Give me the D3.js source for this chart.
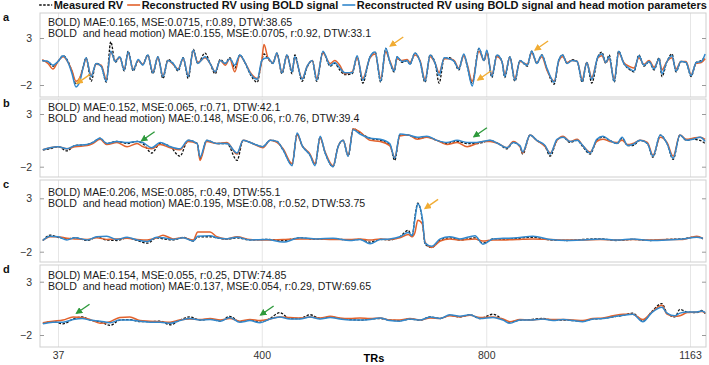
<!DOCTYPE html>
<html lang="en">
<head>
<meta charset="UTF-8">
<title>Measured vs reconstructed RV</title>
<script src="https://d3js.org/d3.v7.min.js"></script>
<style>
    body { margin: 0; background: #fff; }
    svg { display: block; font-family: "Liberation Sans", Arial, Helvetica, sans-serif; }
    .stat { font-size: 10.6px; fill: #1a1a1a; white-space: pre; }
    .panel-label { font-size: 11px; font-weight: bold; fill: #111; }
    .legend text { font-size: 11px; font-weight: bold; fill: #111; }
    .axis text { font-size: 10.5px; fill: #333; }
    .axis path { display: none; }
    .axis line { stroke: #9a9a9a; }
    .grid line { stroke: #e6e6e6; }
    .grid path { display: none; }
</style>
</head>
<body>
<div id="chart"></div>
<script>
// x ticks and y ticks shared by all panels
const xTicks = [37, 400, 800, 1163];
const yTicks = [-2, 3];
const panelLabels = ["a", "b", "c", "d"];
const seriesNames = ["Measured RV", "Reconstructed RV using BOLD signal", "Reconstructed RV using BOLD signal and head motion parameters"];

const statsBold = [
    "BOLD) MAE:0.165, MSE:0.0715, r:0.89, DTW:38.65",
    "BOLD) MAE:0.152, MSE:0.065, r:0.71, DTW:42.1",
    "BOLD) MAE:0.206, MSE:0.085, r:0.49, DTW:55.1",
    "BOLD) MAE:0.154, MSE:0.055, r:0.25, DTW:74.85"
];
const statsMotion = [
    "BOLD  and head motion) MAE:0.155, MSE:0.0705, r:0.92, DTW:33.1",
    "BOLD  and head motion) MAE:0.148, MSE:0.06, r:0.76, DTW:39.4",
    "BOLD  and head motion) MAE:0.195, MSE:0.08, r:0.52, DTW:53.75",
    "BOLD  and head motion) MAE:0.137, MSE:0.054, r:0.29, DTW:69.65"
];

// panel a
const trA = [9,19,28,37,46,55,62,69,76,82,87,96,105,114,123,131,139,147,155,162,171,180,188,197,206,215,224,233,242,251,260,269,278,286,
    299,308,317,326,335,343,352,361,370,379,392,400,404,411,420,427,436,445,454,459,472,481,490,498,509,522,530,539,548,561,570,580,593,602,
    612,621,628,636,641,650,659,664,673,682,691,700,709,716,725,734,743,751,760,766,775,787,796,801,810,819,828,833,842,851,860,873,881,890,
    899,908,921,929,936,944,953,962,971,979,988,999,1006,1013,1019,1028,1036,1045,1054,1063,1072,1081,1090,1099,1108,1113,1122,1131,1138,1147,1156,1165,1174,1183,1190];
const measuredA = [0.6,0.5,0.0,0.5,1.1,0.5,-0.6,-1.9,-1.3,0.0,0.9,-1.6,0.3,0.0,-1.7,2.6,0.4,1.0,-0.5,1.6,-0.5,0.6,0.2,1.2,-0.8,1.0,-1.3,0.7,0.3,-0.5,0.9,-1.3,1.8,0.3,
    1.4,0.3,-0.8,0.7,0.3,0.9,-0.2,1.2,0.4,-0.8,-1.7,0.6,1.3,0.8,0.3,1.4,-0.8,1.2,-0.8,1.2,-1.6,-0.1,0.6,-1.6,1.5,0.0,0.3,-0.4,-0.9,-0.8,1.0,-1.8,1.0,1.5,
    -1.7,1.9,0.5,-0.6,1.0,0.4,0.6,0.2,1.4,0.5,-1.7,1.2,0.3,-1.8,0.8,0.9,0.5,-0.4,1.2,0.0,-1.8,1.9,0.6,1.6,-1.2,1.2,0.5,-1.2,1.0,-1.6,0.6,0.0,1.6,0.3,
    1.2,-0.3,-1.9,0.6,1.2,0.3,0.7,0.5,-1.7,0.4,-1.8,1.0,1.5,0.3,1.2,-1.7,1.6,0.3,-0.3,-0.6,1.2,0.0,0.5,-0.4,0.9,-1.1,0.5,1.3,-0.6,0.5,0.4,-1.1,0.4,0.6,1.0];
const boldA = [0.7,0.3,-0.3,0.5,1.0,0.4,-0.5,-1.6,-1.2,-0.1,0.8,-1.0,0.2,0.1,-1.4,1.5,0.6,0.9,-0.3,1.4,-0.3,0.6,0.2,1.1,-0.6,0.9,-1.0,0.6,0.2,-0.3,0.8,-1.0,1.6,0.4,
    0.9,0.3,-0.6,0.6,0.1,0.8,-0.6,1.1,0.4,-0.6,-1.3,0.6,2.3,0.9,0.4,1.3,-0.6,1.1,-0.5,0.9,-1.3,0.0,0.6,-1.3,1.4,0.3,0.6,0.1,-0.8,-0.6,0.9,-1.3,0.9,1.3,
    -1.3,1.5,0.6,-0.4,0.8,0.6,0.7,0.4,1.2,0.6,-1.4,1.0,0.3,-0.7,0.8,0.8,0.6,-0.2,1.1,0.2,-1.6,1.6,0.6,1.4,-0.9,1.0,0.5,-0.9,0.9,-1.3,0.5,0.2,1.4,0.4,
    1.0,-0.4,-1.6,0.5,1.0,0.4,0.6,0.5,-1.4,0.4,-1.2,0.9,1.1,0.4,0.8,-1.4,1.4,0.4,0.0,-0.2,0.9,0.2,0.6,-0.1,0.7,-0.4,0.5,0.9,-0.3,0.5,0.5,-0.9,0.3,0.4,0.8];
const motionA = [0.6,0.5,0.1,0.5,1.1,0.4,-0.8,-2.2,-1.6,-0.1,0.9,-1.1,0.3,0.0,-1.6,1.6,0.5,1.0,-0.4,1.5,-0.4,0.7,0.1,1.2,-0.7,1.0,-1.1,0.6,0.3,-0.4,0.9,-1.1,1.7,0.3,
    1.0,0.3,-0.6,0.6,0.3,0.8,0.1,1.2,0.4,-0.7,-1.4,0.6,0.8,0.9,0.3,1.4,-0.7,1.2,-0.6,1.0,-1.4,0.0,0.6,-1.5,1.6,0.1,0.4,-0.2,-0.7,-0.7,1.1,-1.5,1.0,1.5,
    -1.6,1.9,0.5,-0.5,1.0,0.5,0.6,0.2,1.4,0.5,-1.6,1.2,0.3,-1.0,0.9,0.8,0.5,-0.3,1.3,0.1,-2.1,1.9,0.6,1.7,-1.1,1.2,0.5,-1.1,1.0,-1.5,0.6,0.1,1.6,0.3,
    1.2,-0.2,-1.7,0.6,1.2,0.3,0.6,0.5,-1.6,0.4,-1.4,1.0,1.3,0.4,1.0,-1.6,1.6,0.3,-0.2,-0.5,1.1,0.1,0.5,-0.3,0.8,-0.8,0.5,1.1,-0.5,0.5,0.4,-1.0,0.4,0.5,1.3];

// panel b
const trB = [10,23,37,53,67,89,99,112,124,142,160,178,188,204,219,237,254,269,285,290,302,320,338,356,367,384,402,415,427,438,
    454,463,472,486,495,504,513,527,536,545,554,563,575,593,611,628,637,646,661,677,694,712,730,748,766,783,794,807,821,837,
    848,860,865,878,890,905,914,926,937,949,962,972,985,997,1008,1020,1033,1042,1052,1061,1074,1087,1097,1110,1122,1133,1145,1157,1168,1181,1190];
const measuredB = [-0.4,-0.3,-0.1,-0.5,0.0,0.1,0.3,0.7,0.2,0.4,0.2,0.4,0.2,-0.7,0.2,-0.1,-1.0,0.5,0.2,-1.2,0.5,0.2,0.2,-1.4,0.5,0.2,-0.1,0.5,0.4,-0.4,
    -1.8,1.1,0.0,-0.9,-1.8,0.8,-0.7,-2.0,-0.1,0.5,-1.0,1.6,1.2,0.7,0.5,0.1,-1.4,1.0,1.0,0.7,0.8,0.5,0.2,0.4,0.2,0.2,0.3,0.5,0.2,-0.3,
    0.3,-0.1,-0.8,1.0,0.5,-0.1,-1.0,0.5,0.8,0.3,0.5,-0.1,-0.8,0.5,0.8,0.5,0.2,0.7,0.0,0.0,0.5,0.2,-1.1,1.0,0.2,-1.3,1.0,0.5,0.6,0.5,0.2];
const boldB = [-0.4,-0.2,-0.1,-0.3,-0.1,0.0,0.2,0.6,0.1,0.3,-0.1,0.2,-0.1,-0.3,0.1,-0.2,-0.4,0.4,0.2,-1.4,0.4,0.2,0.3,-0.8,0.5,0.2,-0.2,0.5,0.3,-0.3,
    -1.7,1.0,0.0,-0.8,-1.7,0.7,-0.6,-1.9,-0.1,0.5,-0.9,1.6,1.3,0.5,0.4,0.0,-1.1,0.9,1.0,0.6,0.8,0.5,0.1,0.3,-0.1,0.2,0.4,0.4,0.2,-0.2,
    0.4,-0.1,-0.7,1.0,0.5,-0.1,-0.7,0.5,0.9,0.4,0.6,0.0,-0.6,0.4,0.6,0.4,0.3,0.5,0.1,0.2,0.5,0.3,-0.9,0.8,0.3,-1.0,1.0,0.6,0.7,0.8,0.6];
const motionB = [-0.4,-0.2,-0.1,-0.3,0.0,0.1,0.3,0.7,0.2,0.4,0.3,0.4,0.3,-0.2,0.3,-0.1,-0.3,0.5,0.2,-1.1,0.5,0.2,0.2,-0.7,0.5,0.2,-0.1,0.5,0.4,-0.4,
    -1.9,1.2,0.0,-0.9,-1.9,0.9,-0.7,-2.0,-0.1,0.5,-1.0,1.5,1.1,0.7,0.6,0.2,-1.2,1.1,1.0,0.8,0.9,0.5,0.3,0.5,0.3,0.3,0.4,0.5,0.2,-0.2,
    0.3,0.0,-0.6,1.0,0.5,0.0,-0.8,0.6,0.8,0.4,0.5,0.0,-0.7,0.6,0.9,0.5,0.2,0.8,0.0,0.1,0.5,0.2,-1.0,1.0,0.2,-1.2,1.0,0.5,0.6,0.8,0.4];

// panel c
const trC = [10,23,37,53,67,89,106,124,142,160,178,196,213,224,242,260,278,286,308,320,338,356,379,409,438,468,498,527,557,575,
    593,611,628,646,661,668,673,678,686,691,703,718,735,753,780,794,812,830,855,883,914,944,972,1003,1033,1061,1092,1122,1150,1175,1186];
const measuredC = [-0.95,-0.45,-0.65,-0.8,-0.7,-0.95,-0.65,-0.9,-0.95,-0.7,-0.95,-1.2,-0.7,-0.8,-0.9,-0.65,-1.0,-0.6,-0.6,-0.7,
    -0.85,-0.7,-0.9,-0.85,-0.95,-0.7,-0.85,-0.8,-0.9,-0.85,-1.1,-0.85,-0.9,-0.6,0.0,-0.6,1.3,2.55,1.0,-1.3,
    -1.6,-0.9,-0.7,-0.9,-0.7,-1.2,-0.8,-0.85,-0.75,-0.65,-0.9,-0.95,-0.85,-0.8,-0.95,-0.85,-0.95,-0.85,-0.8,-0.6,-0.8];
const boldC = [-0.95,-0.6,-0.6,-0.75,-0.8,-0.85,-0.7,-0.85,-0.8,-0.75,-0.85,-0.9,-0.7,-0.45,-0.8,-0.7,-0.9,-0.15,-0.15,-0.6,
    -0.8,-0.6,-0.85,-0.9,-0.85,-0.8,-0.8,-0.85,-0.85,-0.8,-0.9,-0.8,-0.85,-0.7,-0.4,-0.6,-0.2,0.95,0.6,-1.1,
    -1.6,-1.0,-0.8,-0.9,-0.8,-1.0,-0.9,-0.9,-0.85,-0.8,-0.85,-0.9,-0.9,-0.85,-0.9,-0.85,-0.9,-0.85,-0.85,-0.55,-0.75];
const motionC = [-0.95,-0.55,-0.6,-0.9,-0.7,-0.9,-0.6,-0.55,-0.85,-0.65,-0.9,-1.05,-0.65,-0.7,-0.85,-0.7,-1.0,-0.55,-0.5,-0.7,
    -0.8,-0.65,-0.9,-0.85,-1.1,-0.7,-0.8,-0.75,-0.95,-0.85,-1.25,-0.85,-0.8,-0.6,-0.2,-0.5,1.1,2.5,1.2,-1.2,
    -1.5,-0.8,-0.6,-0.8,-0.5,-1.3,-0.8,-0.75,-0.7,-0.55,-0.85,-0.95,-0.9,-0.8,-0.9,-0.8,-0.95,-0.9,-0.8,-0.65,-0.75];

// panel d
const trD = [10,28,46,64,80,94,112,130,147,165,183,201,219,237,254,272,290,308,326,343,361,379,397,415,432,450,468,486,504,522,
    539,557,575,593,611,628,646,664,682,700,718,735,753,771,789,812,830,842,860,878,901,919,937,955,972,990,1008,1026,1044,1061,
    1079,1095,1113,1122,1136,1145,1158,1175,1184,1190];
const measuredD = [-0.9,-0.75,-0.95,-0.5,-0.3,-0.6,-0.75,-1.1,-0.6,-0.55,-0.75,-0.75,-0.7,-1.05,-0.6,-0.3,-0.6,-0.5,-0.7,-0.25,
    -0.75,-0.6,-0.8,-0.45,0.1,-0.45,-0.45,-0.1,-0.45,-0.3,-0.45,-0.55,-0.6,-0.5,-0.45,-0.6,-0.65,-0.5,-0.6,-0.3,
    -0.45,-0.15,-0.3,-0.1,-0.45,-0.05,-0.55,-0.8,-0.6,-0.55,-0.45,-0.6,-0.6,-0.65,-0.7,-0.5,-0.45,-0.3,-0.15,0.05,
    -0.7,0.2,0.95,0.05,-0.3,0.4,0.15,0.1,0.3,0.0];
const boldD = [-0.85,-0.7,-0.6,-0.3,-0.35,-0.55,-0.9,-0.75,-0.35,-0.3,-0.65,-0.7,-0.75,-0.8,-0.6,-0.5,-0.55,-0.45,-0.6,-0.45,
    -0.7,-0.55,-0.65,-0.5,-0.3,-0.35,-0.4,-0.3,-0.4,-0.25,-0.4,-0.45,-0.4,-0.45,-0.4,-0.6,-0.6,-0.45,-0.6,-0.4,
    -0.45,-0.2,-0.3,-0.15,-0.35,-0.3,-0.5,-0.75,-0.55,-0.6,-0.5,-0.55,-0.55,-0.6,-0.65,-0.45,-0.4,-0.2,-0.05,-0.05,
    -0.55,0.15,0.8,-0.05,-0.25,-0.2,0.1,0.15,0.2,0.05];
const motionD = [-0.95,-0.8,-0.8,-0.55,-0.45,-0.6,-0.7,-0.85,-0.6,-0.6,-0.7,-0.8,-0.8,-0.9,-0.65,-0.45,-0.6,-0.55,-0.7,-0.35,
    -0.8,-0.65,-0.85,-0.5,-0.3,-0.5,-0.5,-0.3,-0.5,-0.35,-0.5,-0.6,-0.6,-0.55,-0.4,-0.65,-0.7,-0.5,-0.6,-0.3,
    -0.45,-0.1,-0.25,-0.1,-0.45,-0.35,-0.6,-0.9,-0.6,-0.6,-0.5,-0.65,-0.55,-0.65,-0.75,-0.5,-0.45,-0.3,-0.15,-0.05,
    -0.75,0.1,0.6,0.05,-0.2,0.05,0.15,0.15,0.25,0.1];

// annotation arrows: panel index, TR and value the arrow points at, kind
const arrowPanel = [0, 0, 0, 0, 1, 1, 2, 3, 3];
const arrowTR    = [71, 629, 785, 887, 186, 778, 691, 70, 398];
const arrowValue = [-1.82, 2.15, -1.47, 1.72, 0.46, 0.84, 2.06, 0.04, -0.12];
const arrowKind  = ["o", "o", "o", "o", "g", "g", "o", "g", "g"];

const panels = [
    {tr: trA, series: [measuredA, boldA, motionA]},
    {tr: trB, series: [measuredB, boldB, motionB]},
    {tr: trC, series: [measuredC, boldC, motionC]},
    {tr: trD, series: [measuredD, boldD, motionD]}
];

// layout
const W = 709, H = 365;
const boxLeft = 40, boxRight = 706;
const panelTop = [13, 99, 180, 265];
const panelBottom = [97, 177, 262, 347];
const yPos3 = [38, 114, 198.3, 281.7];
const yPosNeg2 = [85, 166.7, 251.7, 335];
const statY = [25.5, 110.5, 195.5, 278.8];
const colors = ["#111111", "#e2622c", "#3288cc"];
const arrowColors = {o: "#f1ac33", g: "#2e9a3c"};

const svg = d3.select("#chart").append("svg")
    .attr("width", W)
    .attr("height", H);

const defs = svg.append("defs");
Object.entries(arrowColors).forEach(([k, c]) => {
    defs.append("marker")
        .attr("id", "head-" + k)
        .attr("viewBox", "0 0 10 10")
        .attr("refX", 8).attr("refY", 5)
        .attr("markerWidth", 5).attr("markerHeight", 5)
        .attr("orient", "auto")
        .append("path")
        .attr("d", "M0,0 L10,5 L0,10 z")
        .attr("fill", c);
});

const x = d3.scaleLinear().domain([xTicks[0], xTicks[xTicks.length - 1]]).range([58, 690]);

// legend
const legend = svg.append("g").attr("class", "legend");
let lx = 0;
const items = [];
seriesNames.forEach((name, i) => {
    const g = legend.append("g");
    g.append("line")
        .attr("x1", 0).attr("x2", 13)
        .attr("y1", 5).attr("y2", 5)
        .attr("stroke", colors[i])
        .attr("stroke-width", 1.6)
        .attr("stroke-dasharray", i === 0 ? "2.5,1.5" : null);
    const t = g.append("text").attr("x", 14.5).attr("y", 9).text(name);
    const w = 14.5 + t.node().getComputedTextLength();
    items.push({g, off: lx});
    lx += w + 4;
});
const legendStart = 373 - (lx - 4) / 2;
items.forEach(d => d.g.attr("transform", `translate(${legendStart + d.off},0)`));

panels.forEach((p, pi) => {
    const top = panelTop[pi], bottom = panelBottom[pi];
    const y = d3.scaleLinear().domain(yTicks).range([yPosNeg2[pi], yPos3[pi]]);
    const g = svg.append("g");

    g.append("clipPath").attr("id", "clip" + pi)
        .append("rect")
        .attr("x", boxLeft).attr("y", top)
        .attr("width", boxRight - boxLeft).attr("height", bottom - top);

    // vertical grid
    g.append("g")
        .attr("class", "grid")
        .attr("transform", `translate(0,${bottom})`)
        .call(d3.axisBottom(x).tickValues(xTicks).tickSize(-(bottom - top)).tickFormat(""));

    // box
    g.append("rect")
        .attr("x", boxLeft).attr("y", top)
        .attr("width", boxRight - boxLeft).attr("height", bottom - top)
        .attr("fill", "none")
        .attr("stroke", "#cfcfcf")
        .attr("stroke-width", 1);

    // y axes, ticks pointing inwards
    g.append("g")
        .attr("class", "axis")
        .attr("transform", `translate(${boxLeft},0)`)
        .call(d3.axisLeft(y).tickValues(yTicks).tickSize(-4).tickPadding(8).tickFormat(d3.format("d")));
    g.append("g")
        .attr("class", "axis")
        .attr("transform", `translate(${boxRight},0)`)
        .call(d3.axisRight(y).tickValues(yTicks).tickSize(-4).tickFormat(""));

    // stats text
    g.append("text").attr("class", "stat").attr("x", 48).attr("y", statY[pi]).text(statsBold[pi]);
    g.append("text").attr("class", "stat").attr("x", 48).attr("y", statY[pi] + 11.6).text(statsMotion[pi]);

    // panel label
    g.append("text").attr("class", "panel-label").attr("x", 3).attr("y", top + 8).text(panelLabels[pi]);

    const line = d3.line()
        .x((d, i) => x(p.tr[i]))
        .y(d => y(d))
        .curve(d3.curveMonotoneX);

    const lines = g.append("g").attr("clip-path", `url(#clip${pi})`);
    p.series.forEach((s, si) => {
        lines.append("path")
            .datum(s)
            .attr("d", line)
            .attr("fill", "none")
            .attr("stroke", colors[si])
            .attr("stroke-width", si === 0 ? 1.3 : 1.5)
            .attr("stroke-dasharray", si === 0 ? "2.5,1.5" : null)
            .attr("stroke-linejoin", "round");
    });

    // arrows for this panel
    arrowPanel.forEach((ap, ai) => {
        if (ap !== pi) return;
        const hx = x(arrowTR[ai]), hy = y(arrowValue[ai]);
        g.append("line")
            .attr("x1", hx + 13).attr("y1", hy - 9)
            .attr("x2", hx).attr("y2", hy)
            .attr("stroke", arrowColors[arrowKind[ai]])
            .attr("stroke-width", 1.4)
            .attr("marker-end", `url(#head-${arrowKind[ai]})`);
    });

    // x tick labels only under the last panel
    if (pi === panels.length - 1) {
        g.append("g")
            .attr("class", "axis")
            .attr("transform", `translate(0,${bottom})`)
            .call(d3.axisBottom(x).tickValues(xTicks).tickSize(0).tickPadding(5).tickFormat(d3.format("d")));
    }
});

svg.append("text")
    .attr("x", 374).attr("y", 362)
    .attr("text-anchor", "middle")
    .style("font-size", "11px")
    .style("font-weight", "bold")
    .text("TRs");
</script>
</body>
</html>
